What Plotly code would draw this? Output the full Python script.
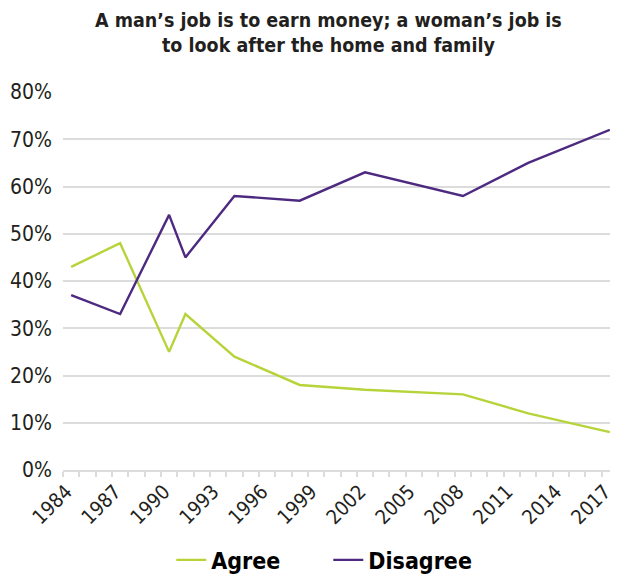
import plotly.graph_objects as go

years = [1984, 1987, 1990, 1991, 1994, 1998, 2002, 2008, 2012, 2017]
agree = [43, 48, 25, 33, 24, 18, 17, 16, 12, 8]
disagree = [37, 33, 54, 45, 58, 57, 63, 58, 65, 72]
tick_years = [1984, 1987, 1990, 1993, 1996, 1999, 2002, 2005, 2008, 2011, 2014, 2017]
y_ticks = [0, 10, 20, 30, 40, 50, 60, 70, 80]

title_text = "A man’s job is to earn money; a woman’s job is<br>to look after the home and family"

AGREE_COLOR = "#b6d43a"
DISAGREE_COLOR = "#4d2a80"
GRID = "#dcdcdc"
TEXT = "#231f20"
NARROW = "DejaVu Sans Condensed, Liberation Sans Narrow, sans-serif"

fig = go.Figure()
fig.add_trace(go.Scatter(x=years, y=agree, mode="lines", name="Agree",
                         line=dict(color=AGREE_COLOR, width=2.4)))
fig.add_trace(go.Scatter(x=years, y=disagree, mode="lines", name="Disagree",
                         line=dict(color=DISAGREE_COLOR, width=2.4)))

# page body has an 8px margin, so the figure is sized to the remaining window area
fig.update_layout(
    width=610, height=568,
    margin=dict(l=55, r=0, t=84, b=106, autoexpand=False),
    paper_bgcolor="white", plot_bgcolor="white",
    legend=dict(orientation="h", x=0.478, xanchor="center", y=-0.238, yanchor="middle",
                font=dict(family=NARROW, size=23, color="black", weight=700),
                entrywidth=112, entrywidthmode="pixels", traceorder="normal"),
    showlegend=True,
    annotations=[dict(text="<b>" + title_text + "</b>", xref="paper", yref="paper",
                      x=0.4775, y=1.225, xanchor="center", yanchor="top",
                      showarrow=False, align="center",
                      font=dict(family=NARROW, size=19.5, color=TEXT))],
)
fig.update_xaxes(
    range=[1983.5, 2017.5], automargin=False,
    tickmode="array", tickvals=tick_years, ticktext=[str(t) for t in tick_years],
    tickangle=-45, ticks="", ticklabeloverflow="allow", ticklabelshift=-5,
    tickfont=dict(family=NARROW, size=20, color=TEXT),
    showgrid=False, zeroline=False,
    showline=True, linecolor=GRID, linewidth=2,
    minor=dict(ticks="outside", ticklen=5, tickwidth=1.5, tickcolor=GRID,
               tickmode="linear", tick0=1983.5, dtick=1, showgrid=False),
)
fig.update_yaxes(
    range=[0, 80], automargin=False,
    tickmode="array", tickvals=y_ticks, ticktext=[f"{v}%" for v in y_ticks],
    ticks="", ticklabelstandoff=10,
    tickfont=dict(family=NARROW, size=21, color=TEXT),
    showgrid=True, gridcolor=GRID, gridwidth=1.5, zeroline=False, showline=False,
)

fig.write_html("out.html")
